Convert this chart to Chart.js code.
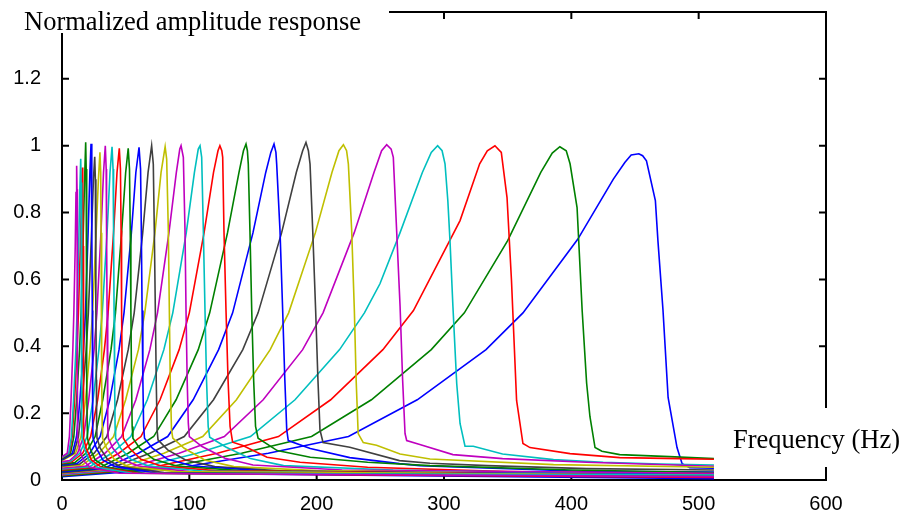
<!DOCTYPE html>
<html>
<head>
<meta charset="utf-8">
<script src="https://cdn.jsdelivr.net/npm/chart.js@4.4.1/dist/chart.umd.min.js"></script>
<style>
  html, body { margin: 0; padding: 0; background: #fff; }
  #wrap { width: 908px; height: 514px; position: relative; }
</style>
</head>
<body>
<div id="wrap"><canvas id="chart"></canvas></div>
<script>
// filter responses: [frequency Hz, normalized amplitude], lowest filter first
const m11 = [[0,0.07],[4.1,0.08],[5.8,0.13],[7.1,0.24],[8.5,0.39],[9.3,0.5],[10.4,0.7],[11,0.86],[11.5,0.94],[11.8,0.87],[11.9,0.7],[12,0.48],[12.1,0.3],[12.2,0.16],[12.4,0.125],[13.7,0.095],[16.5,0.06],[22,0.038],[45,0.02],[512,0.01]];
const c15 = [[0,0.068],[5.3,0.08],[7.4,0.13],[9.1,0.24],[10.9,0.39],[11.8,0.5],[13.2,0.72],[14.1,0.88],[14.7,0.961],[15,0.89],[15.2,0.72],[15.3,0.49],[15.5,0.3],[15.6,0.16],[15.8,0.125],[17.5,0.095],[21,0.06],[28,0.038],[55,0.02],[512,0.015]];
const r16 = [[0,0.066],[5.8,0.08],[8,0.13],[9.9,0.24],[11.8,0.39],[12.9,0.5],[14.4,0.7],[15.4,0.86],[16,0.935],[16.3,0.87],[16.5,0.7],[16.7,0.48],[16.8,0.3],[17,0.16],[17.2,0.125],[19,0.095],[23,0.06],[31,0.038],[60,0.02],[512,0.008]];
const g19 = [[0,0.064],[6.7,0.08],[9.3,0.13],[11.5,0.24],[13.8,0.39],[15,0.5],[16.7,0.74],[17.9,0.92],[18.6,1.01],[19,0.93],[19.2,0.746],[19.4,0.507],[19.6,0.3],[19.8,0.16],[20,0.125],[22,0.095],[26,0.06],[35,0.038],[65,0.02],[512,0.012]];
const b23 = [[0,0.062],[8.2,0.08],[11.4,0.13],[14.1,0.24],[16.9,0.39],[18.4,0.5],[20.5,0.74],[21.9,0.92],[22.8,1.006],[23.3,0.93],[23.5,0.746],[23.8,0.507],[24,0.3],[24.2,0.16],[24.4,0.125],[27,0.095],[32,0.06],[42,0.04],[75,0.02],[512,0.004]];
const k26 = [[0,0.06],[9.3,0.08],[12.9,0.13],[15.9,0.24],[19,0.39],[20.7,0.5],[23.1,0.73],[24.7,0.9],[25.7,0.967],[26.2,0.9],[26.5,0.72],[26.7,0.5],[27,0.3],[27.2,0.16],[27.5,0.125],[30,0.095],[36,0.06],[46,0.04],[80,0.022],[512,0.01]];
const y30 = [[0,0.058],[10.7,0.08],[14.9,0.13],[18.5,0.24],[22,0.39],[24,0.5],[26.8,0.74],[28.6,0.9],[29.8,0.98],[30.4,0.92],[30.7,0.74],[31,0.5],[31.3,0.3],[31.6,0.16],[31.9,0.125],[35,0.095],[41,0.062],[52,0.04],[90,0.025],[512,0.014]];
const m34 = [[0,0.055],[6,0.058],[12.2,0.08],[17,0.13],[21,0.24],[25.2,0.39],[27.4,0.5],[30.6,0.74],[32.6,0.92],[34,1.0],[34.7,0.93],[35,0.746],[35.4,0.507],[35.7,0.3],[36.1,0.16],[36.4,0.125],[40,0.095],[47,0.062],[60,0.042],[100,0.025],[512,0.006]];
const c39 = [[0,0.052],[7,0.057],[14,0.08],[19.7,0.13],[24.4,0.24],[29,0.39],[31.6,0.5],[35.4,0.74],[37.7,0.92],[39.3,0.997],[40.1,0.93],[40.5,0.746],[40.9,0.507],[41.3,0.3],[41.7,0.16],[42.1,0.125],[46,0.095],[54,0.062],[68,0.042],[110,0.027],[512,0.01]];
const r45 = [[0,0.05],[8,0.055],[16.2,0.08],[22.5,0.13],[28,0.24],[33.3,0.39],[36.2,0.5],[40.5,0.74],[43.2,0.92],[45,0.992],[45.9,0.93],[46.4,0.746],[46.8,0.507],[47.3,0.3],[47.7,0.16],[48.2,0.125],[53,0.095],[62,0.062],[78,0.042],[120,0.028],[512,0.012]];
const g52 = [[0,0.048],[10,0.052],[18.7,0.08],[26,0.13],[32,0.24],[38.5,0.39],[42,0.5],[46.8,0.74],[50,0.92],[52,0.992],[53,0.93],[53.6,0.746],[54.1,0.507],[54.6,0.3],[55.1,0.16],[55.7,0.125],[61,0.095],[72,0.062],[90,0.042],[140,0.028],[512,0.008]];
const b60 = [[0,0.045],[12,0.05],[21.8,0.08],[30,0.13],[37.5,0.24],[44.8,0.39],[48.7,0.5],[54.5,0.74],[58,0.92],[60.5,0.995],[61.7,0.93],[62.3,0.746],[62.9,0.507],[63.5,0.3],[64.1,0.16],[64.8,0.125],[71,0.095],[83,0.062],[103,0.042],[160,0.027],[512,0.015]];
const k70 = [[0,0.042],[14,0.048],[25.3,0.08],[35.2,0.13],[43.6,0.24],[52,0.39],[56.7,0.5],[63.4,0.74],[67.6,0.92],[70.4,1.0],[71.7,0.945],[72.5,0.746],[73.3,0.507],[74,0.3],[74.7,0.15],[75.4,0.12],[83,0.09],[97,0.06],[120,0.04],[180,0.025],[512,0.01]];
const y81 = [[0,0.04],[16,0.045],[29,0.08],[40.5,0.13],[50,0.24],[60,0.39],[65,0.5],[73,0.74],[77.8,0.92],[81,0.997],[82.2,0.96],[83.5,0.746],[84.3,0.507],[85,0.3],[86,0.15],[87,0.125],[96,0.095],[112,0.06],[135,0.04],[200,0.028],[512,0.012]];
const m93 = [[0,0.036],[18.7,0.042],[33.7,0.08],[46.8,0.13],[58,0.24],[69,0.39],[75,0.5],[84,0.74],[89.8,0.92],[92.5,0.99],[93.5,1.0],[95.3,0.965],[96.6,0.746],[97.4,0.507],[98.3,0.3],[99.2,0.17],[100,0.13],[110,0.1],[128,0.065],[150,0.045],[220,0.03],[512,0.02]];
const c108 = [[0,0.033],[21.7,0.04],[39,0.08],[54,0.13],[67,0.24],[80,0.39],[87,0.5],[97.6,0.74],[104,0.92],[107,0.99],[108.4,1.0],[109.7,0.965],[111,0.746],[112.3,0.507],[113.5,0.3],[114.8,0.16],[116,0.128],[129,0.098],[148,0.064],[174,0.043],[260,0.03],[512,0.015]];
const r124 = [[0,0.03],[25,0.038],[44.6,0.08],[62,0.13],[77,0.24],[92,0.39],[100,0.5],[111.6,0.74],[119,0.92],[122.5,0.985],[124,1.0],[125.5,0.985],[126.2,0.965],[127.2,0.746],[128.8,0.507],[130.4,0.3],[132,0.16],[134,0.113],[142,0.103],[161,0.068],[187,0.053],[240,0.038],[350,0.025],[512,0.018]];
const g144 = [[0,0.028],[29,0.036],[52,0.08],[72,0.13],[89.6,0.24],[107,0.39],[116,0.5],[130,0.74],[139,0.92],[142.5,0.985],[144.5,1.005],[145.6,0.985],[146.3,0.945],[147.6,0.746],[149,0.507],[150.5,0.3],[152,0.16],[154,0.125],[169,0.088],[195,0.068],[240,0.053],[289,0.043],[400,0.03],[512,0.022]];
const b166 = [[0,0.025],[33,0.035],[60,0.08],[83,0.13],[103,0.24],[123,0.39],[134,0.5],[150,0.74],[160,0.92],[164,0.98],[166.5,1.005],[168,0.98],[168.6,0.945],[171.2,0.746],[173.3,0.507],[175,0.3],[176.5,0.15],[177.7,0.118],[195,0.094],[226,0.067],[265,0.049],[281,0.043],[407,0.026],[512,0.024]];
const k192 = [[0,0.022],[38,0.035],[69,0.08],[96,0.13],[119,0.24],[142,0.39],[154,0.5],[172.5,0.74],[184,0.92],[189,0.985],[191.6,1.01],[193.5,0.985],[194.8,0.945],[196.9,0.746],[199.2,0.507],[201,0.3],[202.6,0.15],[205,0.112],[226,0.098],[265,0.058],[289,0.05],[334,0.043],[412,0.034],[512,0.03]];
const y221 = [[0,0.02],[44,0.035],[80,0.08],[110.5,0.13],[137,0.24],[163.5,0.39],[178,0.5],[199,0.74],[212,0.92],[217.5,0.985],[221,1.003],[223.5,0.985],[224.9,0.945],[227.5,0.746],[229.6,0.507],[231,0.3],[232.6,0.139],[236.6,0.112],[247,0.104],[265.5,0.078],[289,0.063],[386,0.046],[512,0.038]];
const m255 = [[0,0.018],[51,0.035],[92,0.08],[127.5,0.13],[158,0.24],[189,0.39],[205,0.5],[229.5,0.74],[245,0.92],[251,0.985],[255,1.003],[258.5,0.99],[260.2,0.965],[262.8,0.746],[265.5,0.52],[267.5,0.3],[269.4,0.139],[270.7,0.118],[281,0.106],[307,0.076],[346,0.064],[412,0.053],[512,0.041]];
const c295 = [[0,0.016],[59,0.035],[106,0.08],[148,0.13],[183,0.24],[218,0.39],[237.5,0.5],[249.7,0.587],[265.5,0.74],[275.7,0.845],[283,0.92],[290,0.98],[295,1.0],[298.5,0.985],[300.8,0.946],[303,0.836],[304.7,0.716],[307,0.52],[310,0.288],[312.6,0.169],[316.5,0.101],[323,0.101],[346,0.078],[386,0.061],[425,0.053],[470,0.048],[512,0.045]];
const r340 = [[0,0.014],[68,0.035],[122,0.08],[170,0.13],[211,0.24],[252,0.39],[276,0.507],[312.6,0.776],[328,0.946],[334,0.985],[340,1.0],[345,0.98],[349.5,0.845],[353,0.597],[357,0.238],[362,0.109],[367.5,0.097],[399,0.079],[438,0.067],[485,0.064],[512,0.062]];
const g392 = [[0,0.012],[78,0.035],[141,0.08],[196,0.13],[243,0.24],[290,0.39],[316,0.5],[350,0.716],[376,0.92],[385,0.978],[391,0.997],[396,0.985],[399,0.946],[404.5,0.815],[408.5,0.507],[412,0.29],[414.6,0.19],[418.6,0.097],[424,0.086],[438,0.076],[477,0.07],[512,0.064]];
const b450 = [[0,0.01],[90,0.035],[162,0.08],[225,0.13],[279,0.24],[333,0.39],[362,0.5],[405,0.72],[433,0.9],[442,0.95],[447,0.972],[453,0.976],[456,0.97],[459,0.955],[466,0.836],[468,0.716],[472,0.507],[476,0.247],[483,0.097],[487,0.049],[493,0.037],[512,0.035]];

const filters = [m11, c15, r16, g19, b23, k26, y30, m34, c39, r45, g52, b60, k70, y81,
  m93, c108, r124, g144, b166, k192, y221, m255, c295, r340, g392, b450];

const blue = '#0000ff', green = '#008000', red = '#ff0000', cyan = '#00bfbf',
  magenta = '#bf00bf', yellow = '#bfbf00', dark = '#404040';
const filterColors = [magenta, cyan, red, green, blue, dark, yellow, magenta, cyan, red, green, blue, dark, yellow,
  magenta, cyan, red, green, blue, dark, yellow, magenta, cyan, red, green, blue];

const xTicks = [0, 100, 200, 300, 400, 500, 600];
const yTicks = [0, 0.2, 0.4, 0.6, 0.8, 1.0, 1.2, 1.4];
const titleText = 'Normalized amplitude response';
const xLabelText = 'Frequency (Hz)';

const serif = '"Liberation Serif", "Times New Roman", serif';
const sans = '"Liberation Sans", Arial, sans-serif';

// box with inward ticks, drawn under the curves
const framePlugin = {
  id: 'frame',
  beforeDatasetsDraw(chart) {
    const { ctx, chartArea: a, scales: { x, y } } = chart;
    ctx.save();
    ctx.strokeStyle = '#000';
    ctx.lineWidth = 2;
    ctx.strokeRect(a.left, a.top, a.right - a.left, a.bottom - a.top);
    ctx.beginPath();
    xTicks.forEach(v => {
      const px = x.getPixelForValue(v);
      ctx.moveTo(px, a.bottom); ctx.lineTo(px, a.bottom - 7);
      ctx.moveTo(px, a.top); ctx.lineTo(px, a.top + 7);
    });
    yTicks.forEach(v => {
      const py = y.getPixelForValue(v);
      ctx.moveTo(a.left, py); ctx.lineTo(a.left + 7, py);
      ctx.moveTo(a.right, py); ctx.lineTo(a.right - 7, py);
    });
    ctx.stroke();
    ctx.restore();
  },
  afterDatasetsDraw(chart) {
    const ctx = chart.ctx;
    ctx.save();
    // the two labels sit on white patches that cut the frame
    ctx.fillStyle = '#fff';
    ctx.fillRect(0, 0, 389, 33);
    ctx.fillRect(716, 408, 192, 59);
    ctx.fillStyle = '#000';
    ctx.font = '26.5px ' + serif;
    ctx.textBaseline = 'alphabetic';
    ctx.textAlign = 'left';
    ctx.fillText(titleText, 24, 30);
    ctx.fillText(xLabelText, 733, 448);
    ctx.restore();
  }
};

new Chart(document.getElementById('chart'), {
  type: 'line',
  data: {
    datasets: filters.map((pts, i) => ({
      data: pts,
      borderColor: filterColors[i],
      borderWidth: 1.6,
      pointRadius: 0,
      tension: 0,
      fill: false
    }))
  },
  options: {
    responsive: true,
    maintainAspectRatio: false,
    animation: false,
    events: [],
    layout: { padding: { top: 12, right: 82, left: 0, bottom: 0 } },
    plugins: { legend: { display: false }, tooltip: { enabled: false } },
    scales: {
      x: {
        type: 'linear', min: 0, max: 600,
        grid: { display: false },
        border: { display: false },
        afterFit: s => { s.height = 34; s.paddingLeft = 0; s.paddingRight = 0; },
        ticks: { stepSize: 100, padding: 4, color: '#000', font: { family: sans, size: 20 }, maxRotation: 0 }
      },
      y: {
        type: 'linear', min: 0, max: 1.4,
        grid: { display: false },
        border: { display: false },
        afterFit: s => { s.width = 62; s.paddingTop = 0; s.paddingBottom = 0; },
        ticks: {
          stepSize: 0.2, padding: 13, color: '#000', font: { family: sans, size: 20 },
          callback: v => (v > 1.3 ? '' : String(+v.toFixed(1)))
        }
      }
    }
  },
  plugins: [framePlugin]
});
</script>
</body>
</html>
